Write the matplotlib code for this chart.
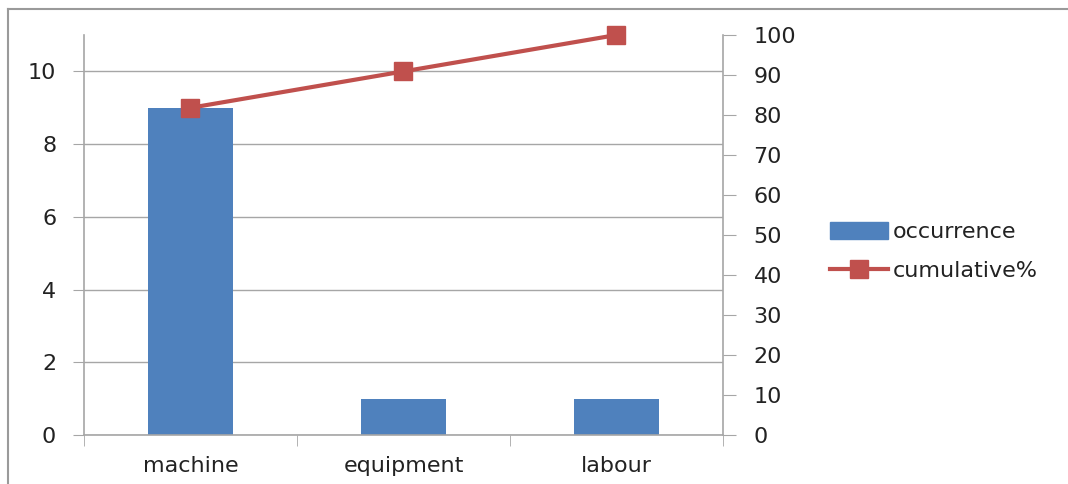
import matplotlib
matplotlib.use("Agg")
import matplotlib.pyplot as plt
from matplotlib.lines import Line2D
from matplotlib.patches import Patch

categories = ["machine", "equipment", "labour"]
occurrence = [9, 1, 1]
cumulative_pct = [81.8, 90.9, 100.0]

left_ticks = [0, 2, 4, 6, 8, 10]
right_ticks = [0, 10, 20, 30, 40, 50, 60, 70, 80, 90, 100]

BAR = "#4f81bd"
LINE = "#c0504d"
GRID = "#a6a6a6"
TEXT = "#222222"
FS = 16

plt.rcParams["font.family"] = ["DejaVu Sans"]

fig = plt.figure(figsize=(10.68, 4.84), dpi=100)
W, H = 1068, 484
ax = fig.add_axes([84 / W, 1 - 435 / H, (723 - 84) / W, (435 - 35) / H])

x = list(range(len(categories)))
ax.bar(x, occurrence, width=0.4, color=BAR, zorder=2)
ax.set_xlim(-0.5, len(categories) - 0.5)
ax.set_ylim(0, 11)
ax.set_yticks(left_ticks)
ax.yaxis.grid(True, color=GRID, linewidth=1.0, zorder=0)
ax.set_axisbelow(True)
ax.set_xticks(x)
ax.set_xticklabels(categories)
ax.set_xticks([-0.5, 0.5, 1.5, 2.5], minor=True)
ax.tick_params(axis="x", which="major", length=0, pad=15, labelsize=FS, labelcolor=TEXT)
ax.tick_params(axis="x", which="minor", length=8, color=GRID, direction="out")
ax.tick_params(axis="y", length=8, color=GRID, labelsize=FS, labelcolor=TEXT, pad=12)
for s in ["top", "right"]:
    ax.spines[s].set_visible(False)
for s in ["left", "bottom"]:
    ax.spines[s].set_color(GRID)
    ax.spines[s].set_linewidth(1.2)

ax2 = ax.twinx()
ax2.plot(x, cumulative_pct, color=LINE, linewidth=3, marker="s",
         markersize=13, markerfacecolor=LINE, markeredgecolor=LINE, zorder=3,
         clip_on=False)
ax2.set_ylim(0, 100)
ax2.set_yticks(right_ticks)
ax2.tick_params(axis="y", length=9, color=GRID, labelsize=FS, labelcolor=TEXT, pad=13)
for s in ["top", "left", "bottom"]:
    ax2.spines[s].set_visible(False)
ax2.spines["right"].set_color(GRID)
ax2.spines["right"].set_linewidth(1.2)

handles = [
    Patch(facecolor=BAR, edgecolor=BAR),
    Line2D([0], [0], color=LINE, linewidth=3, marker="s", markersize=13),
]
fig.legend(handles, ["occurrence", "cumulative%"], loc="upper left",
           bbox_to_anchor=(821 / W, 1 - 213 / H), frameon=False,
           fontsize=FS, labelcolor=TEXT, handlelength=2.6,
           handleheight=0.8, handletextpad=0.25, labelspacing=0.85,
           borderaxespad=0)

# outer chart frame (top and left edges)
fig.add_artist(Line2D([8 / W, 8 / W], [0, 1 - 9 / H], transform=fig.transFigure,
                      color="#9a9a9a", linewidth=1.5))
fig.add_artist(Line2D([8 / W, 1], [1 - 9 / H, 1 - 9 / H], transform=fig.transFigure,
                      color="#9a9a9a", linewidth=1.5))

fig.savefig("out.png", dpi=100)
